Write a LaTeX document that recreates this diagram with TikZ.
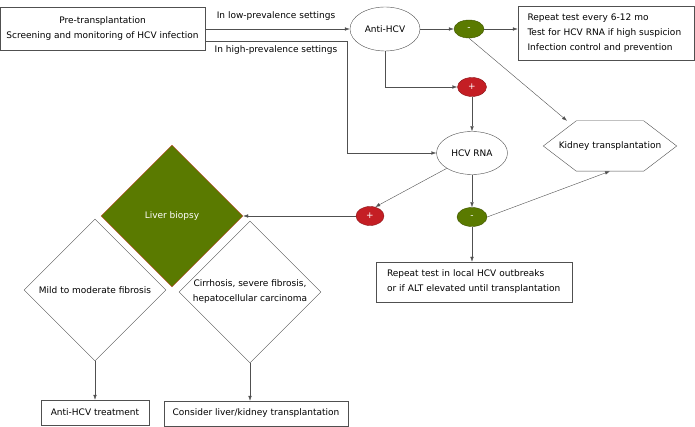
\documentclass[tikz,border=0pt]{standalone}
\usepackage{fontspec}
\setmainfont{DejaVu Sans}
\usepackage{tikz}
\usetikzlibrary{arrows.meta,positioning,shapes.geometric}

\definecolor{hcvgreen}{HTML}{5A7A00}
\definecolor{hcvred}{HTML}{C41E24}
\definecolor{lineg}{HTML}{505050}

\begin{document}
\begin{tikzpicture}[x=1pt,y=-1pt,
		every node/.style={font=\fontsize{9}{15}\selectfont},
		box/.style={rectangle,draw=lineg,inner sep=0pt},
		oval/.style={ellipse,draw=lineg,minimum width=70pt,minimum height=44pt,inner sep=0pt},
		plus/.style={ellipse,draw=hcvred!70!black,fill=hcvred,text=white,minimum width=29pt,minimum height=19pt,inner sep=0pt},
		minus/.style={ellipse,draw=hcvgreen!70!black,fill=hcvgreen,text=white,minimum width=30pt,minimum height=18pt,inner sep=0pt},
		rhomb/.style={diamond,draw=lineg,minimum width=142pt,minimum height=142pt,aspect=1,inner sep=0pt,align=center}]
		\useasboundingbox (0,0) rectangle (695,427);

		\begin{scope}
			\node[box,minimum width=205pt,minimum height=43pt,align=center] (pre) at (102.5,29) {Pre-transplantation\\Screening and monitoring of HCV infection};
			\node[oval] (anti) at (385,29) {Anti-HCV};
			\node[minus] (neg1) at (469,29) {-};
			\node[box,minimum width=176pt,minimum height=54pt,align=left,text width=157pt] (rep1) at (606,33) {Repeat test every 6-12 mo\\Test for HCV RNA if high suspicion\\Infection control and prevention};
			\node[plus] (pos1) at (472,87) {+};
			\node[oval,minimum width=71pt,minimum height=43pt] (rna) at (472,153) {HCV RNA};
			\node[minimum width=133pt,minimum height=50pt,inner sep=0pt] (kid) at (610,146) {Kidney transplantation};
			\node[plus,minimum width=28pt] (pos2) at (370,216) {+};
			\node[minus,minimum height=19pt] (neg2) at (472,217) {-};
			\node[box,minimum width=196pt,minimum height=40pt,align=left,text width=174pt] (rep2) at (474,282) {Repeat test in local HCV outbreaks\\or if ALT elevated until transplantation};
			\node[rhomb,fill=hcvgreen,draw=hcvred!60!brown,text=white] (liver) at (172,216) {Liver biopsy};
			\node[rhomb] (mild) at (95,290) {Mild to moderate fibrosis};
			\node[rhomb] (cirr) at (250,292) {Cirrhosis, severe fibrosis,\\hepatocellular carcinoma};
			\node[box,minimum width=108pt,minimum height=25pt] (treat) at (95,412.5) {Anti-HCV treatment};
			\node[box,minimum width=184pt,minimum height=25pt] (cons) at (256,413.5) {Consider liver/kidney transplantation};

			\node (low) at (276,16) {In low-prevalence settings};
			\node (high) at (276,50) {In high-prevalence settings};
			\coordinate (hi) at (347,153);
		\end{scope}

		% hexagon round the kidney node
		\draw[lineg] ([xshift=33pt]kid.north west) -- ([xshift=-33pt]kid.north east) -- (kid.east)
			-- ([xshift=-33pt]kid.south east) -- ([xshift=33pt]kid.south west) -- (kid.west) -- cycle;

		\begin{scope}[>={Latex[length=5pt,width=3.5pt]},draw=lineg,thin]
			\draw[->] (pre.east) -- (anti.west);
			\draw[->] ([yshift=-12pt]pre.east) -| (hi) -- (rna.west);
			\draw[->] (anti) -- (neg1);
			\draw[->] (neg1) -- (neg1 -| rep1.west);
			\draw[->] (anti.south) |- (pos1.west);
			\draw[->] (neg1.south) -- ([xshift=-43pt]kid.north);
			\draw[->] (pos1) -- (rna);

			\draw[->] (rna.south west) -- (pos2.60);
			\draw[->] (rna) -- (neg2);
			\draw[->] (neg2.east) -- (kid.south);
			\draw[->] (neg2) -- (neg2 |- rep2.north);
			\draw[->] (pos2.west) -- (liver.east);

			\draw[->] (mild.south) -- (treat.north);
			\draw[->] (cirr.south) -- (cirr.south |- cons.north);
		\end{scope}
	\end{tikzpicture}
\end{document}
